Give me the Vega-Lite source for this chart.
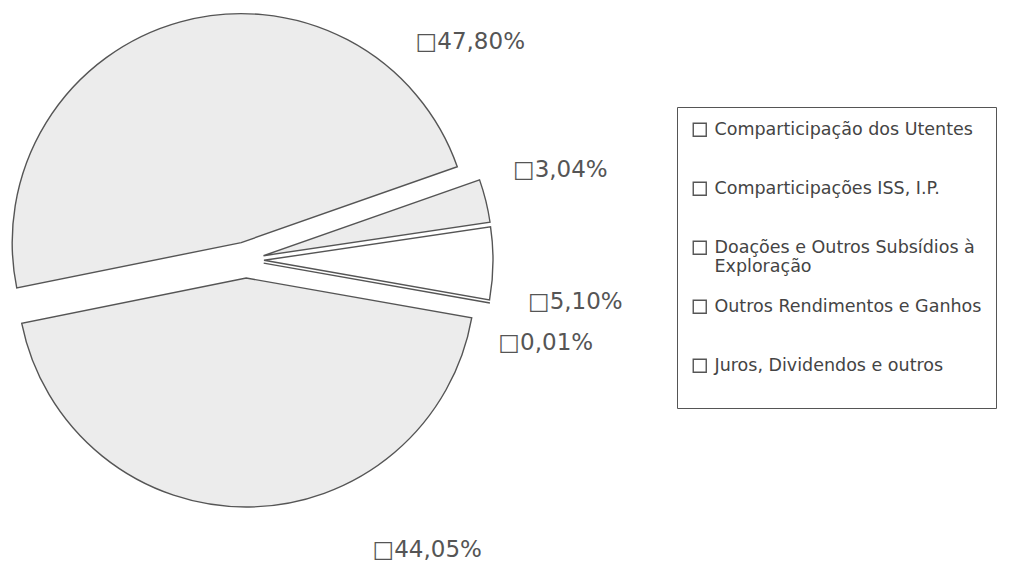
{
  "$schema": "https://vega.github.io/schema/vega-lite/v6.json",
  "width": 492,
  "height": 520,
  "padding": 0,
  "background": "white",
  "config": {
    "view": {"stroke": null},
    "locale": {"number": {"decimal": ",", "thousands": ".", "grouping": [3], "currency": ["□", "%"]}},
    "arc": {"stroke": "#555555", "strokeWidth": 1.4},
    "text": {"font": "DejaVu Sans", "fontSize": 23, "color": "#555555", "align": "center", "baseline": "middle"}
  },
  "data": {
    "values": [
      {"categoria": "Comparticipação dos Utentes", "valor": 44.05, "ordem": 1},
      {"categoria": "Comparticipações ISS, I.P.", "valor": 47.80, "ordem": 2},
      {"categoria": "Doações e Outros Subsídios à Exploração", "valor": 3.04, "ordem": 3},
      {"categoria": "Outros Rendimentos e Ganhos", "valor": 5.10, "ordem": 4},
      {"categoria": "Juros, Dividendos e outros", "valor": 0.01, "ordem": 5}
    ]
  },
  "transform": [
    {"stack": "valor", "groupby": [], "sort": [{"field": "ordem", "order": "ascending"}], "as": ["inicio", "fim"]}
  ],
  "layer": [
    {
      "transform": [{"filter": "datum.ordem == 4"}],
      "mark": {"type": "arc", "radius": 229, "fill": "#ffffff", "xOffset": 18, "yOffset": 0.3},
      "encoding": {
        "theta": {"field": "inicio", "type": "quantitative", "scale": {"domain": [0, 100], "range": [1.7453, 8.0285]}},
        "theta2": {"field": "fim"},
        "stroke": {"field": "categoria", "type": "nominal", "sort": ["Comparticipação dos Utentes", "Comparticipações ISS, I.P.", "Doações e Outros Subsídios à Exploração", "Outros Rendimentos e Ganhos", "Juros, Dividendos e outros"], "scale": {"range": ["#555555", "#555555", "#555555", "#555555", "#555555"]},
          "legend": {"title": null, "orient": "none", "legendX": 677, "legendY": 107, "symbolType": "square", "symbolSize": 169, "symbolStrokeWidth": 1.2, "symbolFillColor": "white", "labelFont": "DejaVu Sans", "labelFontSize": 17.5, "labelColor": "#444444", "labelLimit": 500, "rowPadding": 21, "padding": 14, "strokeColor": "#555555", "labelOffset": 6, "labelExpr": "datum.label == 'Doações e Outros Subsídios à Exploração' ? ['Doações e Outros Subsídios à', 'Exploração'] : [datum.label, '']"}}
      }
    },
    {
      "transform": [{"filter": "datum.ordem == 1"}],
      "mark": {"type": "arc", "radius": 229, "fill": "#ececec", "xOffset": 0.2, "yOffset": 18},
      "encoding": {
        "theta": {"field": "inicio", "type": "quantitative", "scale": {"domain": [0, 100], "range": [1.7453, 8.0285]}},
        "theta2": {"field": "fim"},
        "stroke": {"field": "categoria", "type": "nominal", "sort": ["Comparticipação dos Utentes", "Comparticipações ISS, I.P.", "Doações e Outros Subsídios à Exploração", "Outros Rendimentos e Ganhos", "Juros, Dividendos e outros"], "scale": {"range": ["#555555", "#555555", "#555555", "#555555", "#555555"]},
          "legend": {"title": null, "orient": "none", "legendX": 677, "legendY": 107, "symbolType": "square", "symbolSize": 169, "symbolStrokeWidth": 1.2, "symbolFillColor": "white", "labelFont": "DejaVu Sans", "labelFontSize": 17.5, "labelColor": "#444444", "labelLimit": 500, "rowPadding": 21, "padding": 14, "strokeColor": "#555555", "labelOffset": 6, "labelExpr": "datum.label == 'Doações e Outros Subsídios à Exploração' ? ['Doações e Outros Subsídios à', 'Exploração'] : [datum.label, '']"}}
      }
    },
    {
      "transform": [{"filter": "datum.ordem == 2"}],
      "mark": {"type": "arc", "radius": 229, "fill": "#ececec", "xOffset": -4.8, "yOffset": -17.4},
      "encoding": {
        "theta": {"field": "inicio", "type": "quantitative", "scale": {"domain": [0, 100], "range": [1.7453, 8.0285]}},
        "theta2": {"field": "fim"},
        "stroke": {"field": "categoria", "type": "nominal", "sort": ["Comparticipação dos Utentes", "Comparticipações ISS, I.P.", "Doações e Outros Subsídios à Exploração", "Outros Rendimentos e Ganhos", "Juros, Dividendos e outros"], "scale": {"range": ["#555555", "#555555", "#555555", "#555555", "#555555"]},
          "legend": {"title": null, "orient": "none", "legendX": 677, "legendY": 107, "symbolType": "square", "symbolSize": 169, "symbolStrokeWidth": 1.2, "symbolFillColor": "white", "labelFont": "DejaVu Sans", "labelFontSize": 17.5, "labelColor": "#444444", "labelLimit": 500, "rowPadding": 21, "padding": 14, "strokeColor": "#555555", "labelOffset": 6, "labelExpr": "datum.label == 'Doações e Outros Subsídios à Exploração' ? ['Doações e Outros Subsídios à', 'Exploração'] : [datum.label, '']"}}
      }
    },
    {
      "transform": [{"filter": "datum.ordem == 3"}],
      "mark": {"type": "arc", "radius": 229, "fill": "#ececec", "xOffset": 17.5, "yOffset": -4.3},
      "encoding": {
        "theta": {"field": "inicio", "type": "quantitative", "scale": {"domain": [0, 100], "range": [1.7453, 8.0285]}},
        "theta2": {"field": "fim"},
        "stroke": {"field": "categoria", "type": "nominal", "sort": ["Comparticipação dos Utentes", "Comparticipações ISS, I.P.", "Doações e Outros Subsídios à Exploração", "Outros Rendimentos e Ganhos", "Juros, Dividendos e outros"], "scale": {"range": ["#555555", "#555555", "#555555", "#555555", "#555555"]},
          "legend": {"title": null, "orient": "none", "legendX": 677, "legendY": 107, "symbolType": "square", "symbolSize": 169, "symbolStrokeWidth": 1.2, "symbolFillColor": "white", "labelFont": "DejaVu Sans", "labelFontSize": 17.5, "labelColor": "#444444", "labelLimit": 500, "rowPadding": 21, "padding": 14, "strokeColor": "#555555", "labelOffset": 6, "labelExpr": "datum.label == 'Doações e Outros Subsídios à Exploração' ? ['Doações e Outros Subsídios à', 'Exploração'] : [datum.label, '']"}}
      }
    },
    {
      "transform": [{"filter": "datum.ordem == 5"}],
      "mark": {"type": "arc", "radius": 229, "fill": "#ececec", "xOffset": 17.7, "yOffset": 3.1},
      "encoding": {
        "theta": {"field": "inicio", "type": "quantitative", "scale": {"domain": [0, 100], "range": [1.7453, 8.0285]}},
        "theta2": {"field": "fim"},
        "stroke": {"field": "categoria", "type": "nominal", "sort": ["Comparticipação dos Utentes", "Comparticipações ISS, I.P.", "Doações e Outros Subsídios à Exploração", "Outros Rendimentos e Ganhos", "Juros, Dividendos e outros"], "scale": {"range": ["#555555", "#555555", "#555555", "#555555", "#555555"]},
          "legend": {"title": null, "orient": "none", "legendX": 677, "legendY": 107, "symbolType": "square", "symbolSize": 169, "symbolStrokeWidth": 1.2, "symbolFillColor": "white", "labelFont": "DejaVu Sans", "labelFontSize": 17.5, "labelColor": "#444444", "labelLimit": 500, "rowPadding": 21, "padding": 14, "strokeColor": "#555555", "labelOffset": 6, "labelExpr": "datum.label == 'Doações e Outros Subsídios à Exploração' ? ['Doações e Outros Subsídios à', 'Exploração'] : [datum.label, '']"}}
      }
    },
    {
      "transform": [{"filter": "datum.ordem == 1"}],
      "mark": {"type": "text", "radius": 342, "thetaOffset": 0.838},
      "encoding": {
        "theta": {"field": "inicio", "type": "quantitative", "scale": {"domain": [0, 100], "range": [1.7453, 8.0285]}},
        "text": {"field": "valor", "type": "quantitative", "format": "$.2f"}
      }
    },
    {
      "transform": [{"filter": "datum.ordem == 2"}],
      "mark": {"type": "text", "radius": 313, "thetaOffset": 2.569},
      "encoding": {
        "theta": {"field": "inicio", "type": "quantitative", "scale": {"domain": [0, 100], "range": [1.7453, 8.0285]}},
        "text": {"field": "valor", "type": "quantitative", "format": "$.2f"}
      }
    },
    {
      "transform": [{"filter": "datum.ordem == 3"}],
      "mark": {"type": "text", "radius": 327, "thetaOffset": 0.058},
      "encoding": {
        "theta": {"field": "inicio", "type": "quantitative", "scale": {"domain": [0, 100], "range": [1.7453, 8.0285]}},
        "text": {"field": "valor", "type": "quantitative", "format": "$.2f"}
      }
    },
    {
      "transform": [{"filter": "datum.ordem == 4"}],
      "mark": {"type": "text", "radius": 332, "thetaOffset": 0.274},
      "encoding": {
        "theta": {"field": "inicio", "type": "quantitative", "scale": {"domain": [0, 100], "range": [1.7453, 8.0285]}},
        "text": {"field": "valor", "type": "quantitative", "format": "$.2f"}
      }
    },
    {
      "transform": [{"filter": "datum.ordem == 5"}],
      "mark": {"type": "text", "radius": 311, "thetaOffset": 0.096},
      "encoding": {
        "theta": {"field": "inicio", "type": "quantitative", "scale": {"domain": [0, 100], "range": [1.7453, 8.0285]}},
        "text": {"field": "valor", "type": "quantitative", "format": "$.2f"}
      }
    }
  ]
}
